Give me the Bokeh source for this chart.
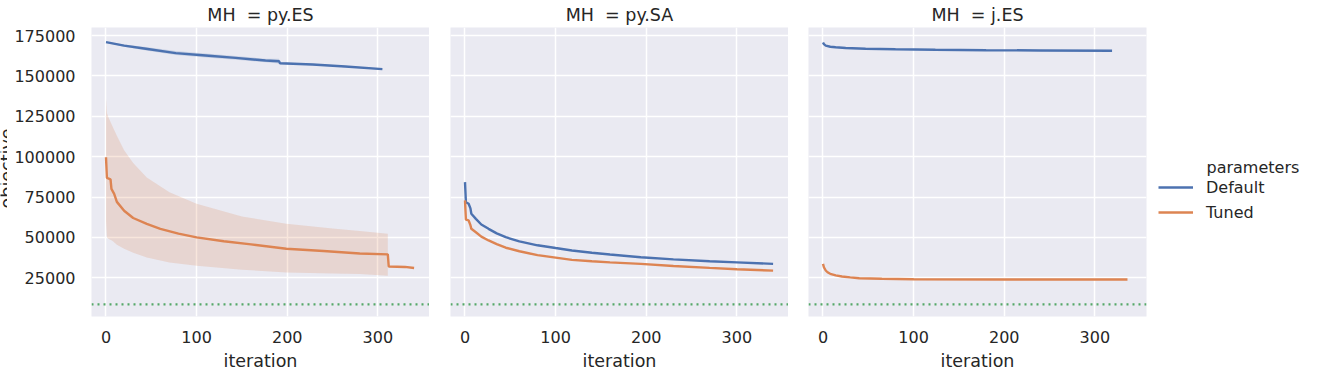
import math

from bokeh.plotting import figure
from bokeh.layouts import row
from bokeh.models import (Range1d, FixedTicker, PrintfTickFormatter, Span,
                          Legend, LegendItem, Label)
from bokeh.embed import file_html
from bokeh.resources import INLINE

# ---------------------------------------------------------------- style
BLUE = "#4C72B0"
ORANGE = "#DD8452"
GREEN = "#55A868"
PANEL_BG = "#EAEAF2"
TEXT = "#262626"
FONT = "DejaVu Sans"
LW = 2.4
HEIGHT = 374

# ---------------------------------------------------------------- data
mh_names = ["py.ES", "py.SA", "j.ES"]
series_names = ["Default", "Tuned"]
x_ticks = [0, 100, 200, 300]
y_ticks = [25000, 50000, 75000, 100000, 125000, 150000, 175000]
best_known_objective = 8500

# MH = py.ES
es_default_iter = [0, 20, 44, 77, 110, 143, 176, 191, 192, 228, 264, 305]
es_default_obj = [170900, 168800, 166800, 164100, 162650, 161200, 159550,
                  159100, 157900, 157100, 155850, 154200]
es_default_hi = [171200, 169500, 167900, 165400, 163900, 162300, 160700,
                 160600, 158500, 157600, 156300, 154500]
es_default_lo = [170600, 168100, 165800, 162900, 161400, 160100, 158400,
                 157700, 157300, 156600, 155400, 153900]

es_tuned_iter = [0, 1, 5, 6, 9, 12, 20, 30, 45, 60, 80, 100, 130, 160, 199,
                 240, 280, 311, 312, 330, 340]
es_tuned_obj = [99600, 86800, 86000, 80000, 77000, 72000, 66500, 62000, 58400,
                55300, 52300, 50000, 47600, 45700, 43000, 41600, 40000, 39500,
                32000, 31700, 31000]
es_tuned_band_iter = [0, 1, 3, 7, 12, 20, 30, 45, 70, 100, 150, 199, 250, 280, 311]
es_tuned_hi = [136000, 127000, 124000, 119000, 113000, 104000, 96000, 87100,
               78000, 70800, 63000, 58400, 55500, 54000, 52200]
es_tuned_lo = [60000, 50000, 49000, 47900, 45500, 43000, 40500, 37600, 34500,
               32400, 30000, 28300, 27600, 27400, 26200]

# MH = py.SA
sa_iter = [0, 1, 4, 6, 7, 12, 18, 26, 35, 45, 60, 80, 100, 118, 140, 160, 194,
           230, 270, 300, 340]
sa_default_obj = [84200, 71800, 70800, 68000, 64600, 61500, 58000, 55300, 52500,
                  50100, 47500, 45100, 43400, 41900, 40500, 39400, 37700, 36400,
                  35200, 34500, 33600]
sa_tuned_obj = [72900, 61000, 60500, 57500, 55300, 53200, 50500, 48100, 45800,
                43600, 41400, 39000, 37500, 36100, 35200, 34500, 33600, 32300,
                31100, 30300, 29400]

# MH = j.ES
jes_default_iter = [0, 1, 3, 8, 14, 25, 47, 80, 124, 180, 240, 319]
jes_default_obj = [170700, 169700, 168800, 168100, 167800, 167300, 166800,
                   166500, 166200, 165950, 165800, 165600]
jes_tuned_iter = [0, 1, 3, 5, 8, 14, 21, 30, 40, 65, 100, 200, 300, 336]
jes_tuned_obj = [33600, 31500, 29500, 28400, 27450, 26500, 25800, 25200, 24700,
                 24350, 24100, 23950, 23900, 23900]

# ---------------------------------------------------------------- panels
x_range = Range1d(-16, 357)
y_range = Range1d(1000, 180000)


def side_strip(width):
    """A plain white strip sharing the panels' objective scale."""
    p = figure(width=width, height=HEIGHT, x_range=Range1d(0, width),
               y_range=y_range, output_backend="svg",
               toolbar_location=None,
               min_border_left=0, min_border_right=0,
               min_border_top=27, min_border_bottom=58,
               background_fill_color="white", border_fill_color="white",
               outline_line_color=None)
    p.axis.visible = False
    p.grid.visible = False
    return p


def make_panel(name, border_left, border_right, show_y):
    p = figure(frame_width=338, frame_height=289,
               x_range=x_range, y_range=y_range,
               output_backend="svg", toolbar_location=None,
               min_border_left=border_left, min_border_right=border_right,
               min_border_top=27, min_border_bottom=58,
               background_fill_color=PANEL_BG, border_fill_color="white",
               outline_line_color=None)

    p.title.text = f"MH\u00a0 = {name}"
    p.title.align = "center"
    p.title.text_font = FONT
    p.title.text_font_size = "17.5px"
    p.title.text_font_style = "normal"
    p.title.text_color = TEXT
    p.title.standoff = 5

    for g in (p.xgrid, p.ygrid):
        g.grid_line_color = "white"
        g.grid_line_width = 1.5
    p.xgrid.ticker = FixedTicker(ticks=x_ticks)
    p.ygrid.ticker = FixedTicker(ticks=y_ticks)

    ax = p.xaxis[0]
    ax.ticker = FixedTicker(ticks=x_ticks)
    ax.axis_line_color = None
    ax.major_tick_line_color = None
    ax.minor_tick_line_color = None
    ax.major_label_text_font = FONT
    ax.major_label_text_font_size = "16px"
    ax.major_label_text_color = TEXT
    ax.major_label_standoff = 8
    ax.axis_label = "iteration"
    ax.axis_label_text_font = FONT
    ax.axis_label_text_font_size = "17.5px"
    ax.axis_label_text_font_style = "normal"
    ax.axis_label_text_color = TEXT
    ax.axis_label_standoff = 5

    ay = p.yaxis[0]
    if show_y:
        ay.ticker = FixedTicker(ticks=y_ticks)
        ay.formatter = PrintfTickFormatter(format="%d")
        ay.axis_line_color = None
        ay.major_tick_line_color = None
        ay.minor_tick_line_color = None
        ay.major_tick_out = 0
        ay.major_tick_in = 0
        ay.minor_tick_out = 0
        ay.major_label_text_font = FONT
        ay.major_label_text_font_size = "16px"
        ay.major_label_text_color = TEXT
        ay.major_label_standoff = 16
    else:
        ay.visible = False

    p.add_layout(Span(location=best_known_objective, dimension="width",
                      line_color=GREEN, line_width=LW, line_dash="2 4"))
    return p


# y-axis title strip, the title running off the left edge of the page
p0 = side_strip(7)
p0.add_layout(Label(x=6, y=92700, text="objective", angle=math.pi / 2,
                    text_align="center", text_baseline="alphabetic",
                    text_font=FONT, text_font_size="17.5px",
                    text_color=TEXT))

# py.ES
p1 = make_panel(mh_names[0], 84, 0, True)
p1.varea(x=es_default_iter, y1=es_default_lo, y2=es_default_hi,
         fill_color=BLUE, fill_alpha=0.2)
p1.varea(x=es_tuned_band_iter, y1=es_tuned_lo, y2=es_tuned_hi,
         fill_color=ORANGE, fill_alpha=0.2)
p1.line(es_default_iter, es_default_obj, line_color=BLUE, line_width=LW)
p1.line(es_tuned_iter, es_tuned_obj, line_color=ORANGE, line_width=LW)

# py.SA
p2 = make_panel(mh_names[1], 21, 0, False)
p2.line(sa_iter, sa_default_obj, line_color=BLUE, line_width=LW)
p2.line(sa_iter, sa_tuned_obj, line_color=ORANGE, line_width=LW)

# j.ES
p3 = make_panel(mh_names[2], 20, 1, False)
p3.line(jes_default_iter, jes_default_obj, line_color=BLUE, line_width=LW)
p3.line(jes_tuned_iter, jes_tuned_obj, line_color=ORANGE, line_width=LW)

# legend strip on the right; the keys are hidden copies of the j.ES series
p4 = side_strip(170)
key_default = p4.line(jes_default_iter, jes_default_obj, line_color=BLUE,
                      line_width=LW, visible=False)
key_tuned = p4.line(jes_tuned_iter, jes_tuned_obj, line_color=ORANGE,
                    line_width=LW, visible=False)
legend = Legend(items=[LegendItem(label=series_names[0], renderers=[key_default]),
                       LegendItem(label=series_names[1], renderers=[key_tuned])],
                location=(11, 93), orientation="vertical",
                border_line_color=None, background_fill_alpha=0,
                padding=0, margin=0, spacing=3,
                glyph_width=35, glyph_height=22, label_height=22,
                label_standoff=13, label_text_font=FONT,
                label_text_font_size="16px", label_text_color=TEXT)
p4.add_layout(legend)
p4.add_layout(Label(x=59, y=93470, text="parameters",
                    text_align="left", text_baseline="alphabetic",
                    text_font=FONT, text_font_size="16px",
                    text_color=TEXT))

layout = row(p0, p1, p2, p3, p4)

open("out.html", "w").write(file_html(layout, INLINE))
